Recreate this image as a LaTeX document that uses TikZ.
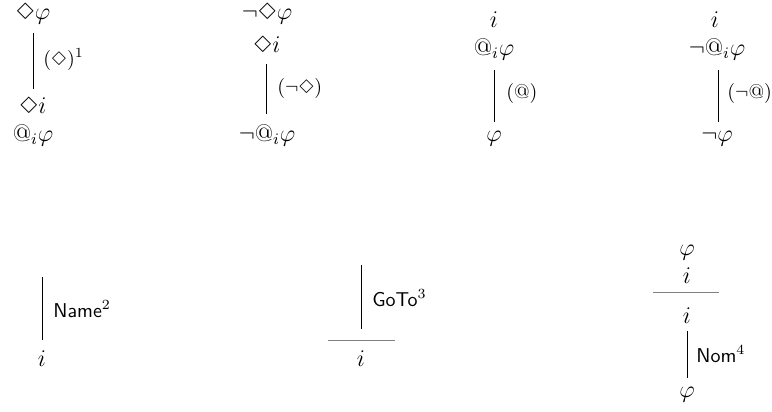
\documentclass[tikz,border=0pt]{standalone}
\usepackage{latexsym}
\begin{document}
\begin{tikzpicture}[x=0.5pt,y=-0.5pt,
  fml/.style={inner sep=0pt,anchor=base,font=\large},
  lbl/.style={inner sep=0pt,anchor=base west,font=\normalsize},
  vline/.style={line width=0.5pt,draw=black},
  hline/.style={line width=0.5pt,draw=gray}]
\useasboundingbox (0,0) rectangle (772,412);
% panel 1
\node[fml] (p1a) at (33,19.5) {$\Diamond\varphi$};
\coordinate (p1t) at (33,33); \coordinate (p1b) at (33,89);
\draw[vline] (p1t) -- (p1b);
\node[lbl] (p1l) at (43,65) {$(\Diamond)^1$};
\node[fml] (p1c) at (33,113) {$\Diamond i$};
\node[fml] (p1d) at (33,141) {$@_i\varphi$};
% panel 2
\node[fml] (p2a) at (267,19.5) {$\neg\Diamond\varphi$};
\node[fml] (p2b) at (267,53) {$\Diamond i$};
\coordinate (p2t) at (266,64); \coordinate (p2e) at (266,114);
\draw[vline] (p2t) -- (p2e);
\node[lbl] (p2l) at (277,93) {$(\neg\Diamond)$};
\node[fml] (p2c) at (267,141) {$\neg@_i\varphi$};
% panel 3
\node[fml] (p3a) at (494,27) {$i$};
\node[fml] (p3b) at (494,55) {$@_i\varphi$};
\coordinate (p3t) at (494,70); \coordinate (p3e) at (494,122);
\draw[vline] (p3t) -- (p3e);
\node[lbl] (p3l) at (506,98) {$(@)$};
\node[fml] (p3c) at (494,141) {$\varphi$};
% panel 4
\node[fml] (p4a) at (715,27) {$i$};
\node[fml] (p4b) at (717,55) {$\neg@_i\varphi$};
\coordinate (p4t) at (718,70); \coordinate (p4e) at (718,122);
\draw[vline] (p4t) -- (p4e);
\node[lbl] (p4l) at (727,98) {$(\neg@)$};
\node[fml] (p4c) at (717,141) {$\neg\varphi$};
% panel 5
\coordinate (p5t) at (42,277); \coordinate (p5e) at (42,340);
\draw[vline] (p5t) -- (p5e);
\node[lbl] (p5l) at (53,317) {\textsf{Name}$^2$};
\node[fml] (p5a) at (42,366) {$i$};
% panel 6
\coordinate (p6t) at (361,265); \coordinate (p6e) at (361,329);
\draw[vline] (p6t) -- (p6e);
\node[lbl] (p6l) at (372,306) {\textsf{GoTo}$^3$};
\coordinate (p6hl) at (328,340); \coordinate (p6hr) at (395,340);
\draw[hline] (p6hl) -- (p6hr);
\node[fml] (p6a) at (361,366) {$i$};
% panel 7
\node[fml] (p7a) at (687,255) {$\varphi$};
\node[fml] (p7b) at (687,283) {$i$};
\coordinate (p7hl) at (653,292); \coordinate (p7hr) at (719,292);
\draw[hline] (p7hl) -- (p7hr);
\node[fml] (p7c) at (687,323) {$i$};
\coordinate (p7t) at (687,331); \coordinate (p7e) at (687,378);
\draw[vline] (p7t) -- (p7e);
\node[lbl] (p7l) at (696,362) {\textsf{Nom}$^4$};
\node[fml] (p7d) at (687,397) {$\varphi$};
\end{tikzpicture}
\end{document}
